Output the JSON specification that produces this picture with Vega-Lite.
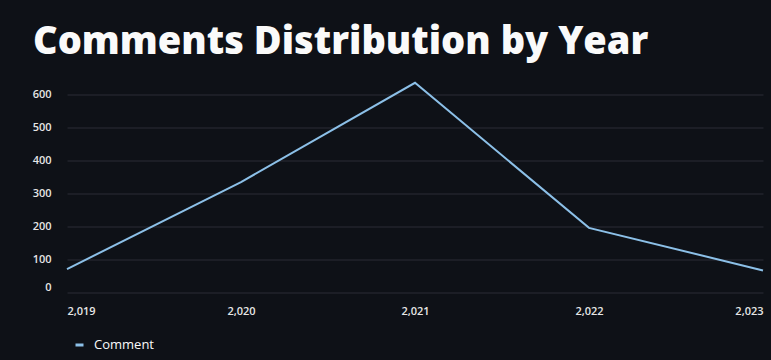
{
  "$schema": "https://vega.github.io/schema/vega-lite/v6.json",
  "autosize": "none",
  "width": 696,
  "height": 211,
  "padding": {"left": 67, "top": 81.5, "right": 8, "bottom": 67.5},
  "background": "#0e1117",
  "title": {
    "text": "Comments Distribution by Year",
    "anchor": "start",
    "frame": "group",
    "dx": -34,
    "offset": 17,
    "fontSize": 38,
    "font": "Open Sans",
    "fontWeight": 800,
    "color": "#fafafa"
  },
  "config": {
    "view": {"stroke": null},
    "axis": {
      "labelColor": "#e6e6e6",
      "labelFont": "Open Sans",
      "labelFontSize": 11,
      "labelFontWeight": 600,
      "domain": false,
      "ticks": false,
      "title": null,
      "gridColor": "#2a2d36",
      "gridWidth": 1
    }
  },
  "data": {
    "values": [
      {"year": 2019, "count": 71, "series": "Comment"},
      {"year": 2020, "count": 335, "series": "Comment"},
      {"year": 2021, "count": 636, "series": "Comment"},
      {"year": 2022, "count": 196, "series": "Comment"},
      {"year": 2023, "count": 67, "series": "Comment"}
    ]
  },
  "mark": {"type": "line", "strokeWidth": 2},
  "encoding": {
    "x": {
      "field": "year",
      "type": "quantitative",
      "scale": {"domain": [2019, 2023], "nice": false, "zero": false},
      "axis": {
        "values": [2019, 2020, 2021, 2022, 2023],
        "format": ",",
        "grid": false,
        "labelFlush": true,
        "labelPadding": 13
      }
    },
    "y": {
      "field": "count",
      "type": "quantitative",
      "scale": {"domain": [0, 640], "nice": false},
      "axis": {
        "values": [0, 100, 200, 300, 400, 500, 600],
        "labelFlush": true,
        "labelPadding": 16
      }
    },
    "color": {
      "field": "series",
      "type": "nominal",
      "scale": {"range": ["#8cc0e8"]},
      "legend": {
        "orient": "none",
        "legendX": 6,
        "legendY": 257,
        "title": null,
        "symbolType": "stroke",
        "symbolStrokeWidth": 3,
        "symbolSize": 64,
        "labelOffset": 8,
        "labelColor": "#fafafa",
        "labelFont": "Open Sans",
        "labelFontSize": 13
      }
    }
  }
}
